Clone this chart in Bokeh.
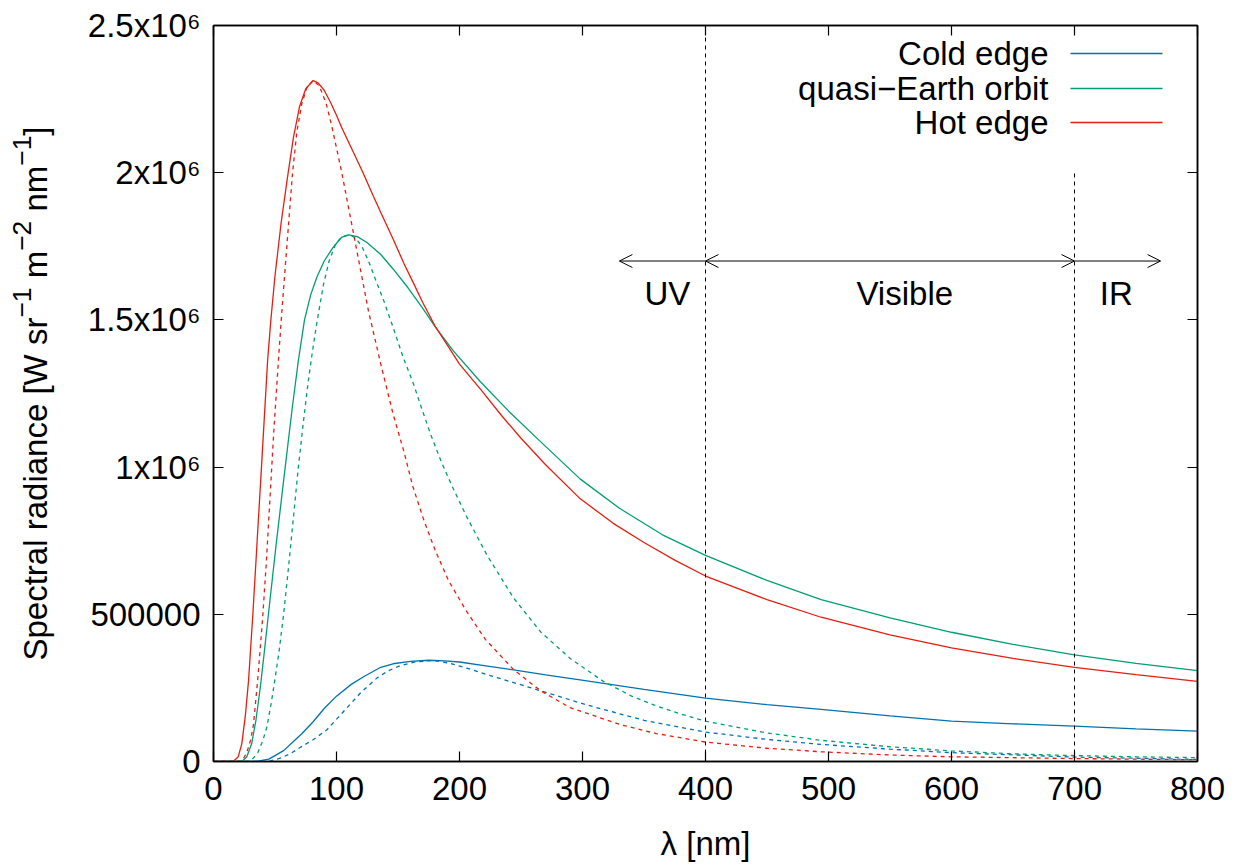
import math
from bokeh.plotting import figure
from bokeh.layouts import row
from bokeh.models import Range1d, FixedTicker, LinearAxis, Arrow, OpenHead, Label
from bokeh.core.properties import value
from bokeh.embed import file_html
from bokeh.resources import INLINE

FONT = "Liberation Sans"
FSN = 33                     # main font size (px)
FS = f"{FSN}px"
SUPN = 0.8 * FSN             # superscript size
BLUE, GREEN, RED = "#0072b2", "#009e73", "#e51e10"

# ---------------- data, y in W sr^-1 m^-2 nm^-1 ----------------
cold_solid_x = [0, 35, 45, 57, 65, 72, 81, 90, 100, 112, 122, 136, 146, 160, 175, 188, 200, 220, 244, 270, 298, 350, 400, 450, 494, 550, 600, 650, 700, 750, 800]
cold_solid_y = [0, 0, 0.008e6, 0.037e6, 0.068e6, 0.095e6, 0.135e6, 0.18e6, 0.222e6, 0.262e6, 0.288e6, 0.320e6, 0.332e6, 0.340e6, 0.344e6, 0.342e6, 0.338e6, 0.326e6, 0.311e6, 0.294e6, 0.277e6, 0.245e6, 0.215e6, 0.193e6, 0.177e6, 0.155e6, 0.137e6, 0.128e6, 0.120e6, 0.111e6, 0.103e6]

cold_dash_x = [0, 44, 55, 63, 71, 81, 92, 101, 111, 120, 133, 142, 152, 165, 179, 192, 206, 225, 244, 274, 298, 315, 350, 400, 450, 494, 550, 600, 700, 800]
cold_dash_y = [0, 0, 0.012e6, 0.028e6, 0.049e6, 0.074e6, 0.107e6, 0.148e6, 0.194e6, 0.235e6, 0.284e6, 0.308e6, 0.326e6, 0.339e6, 0.343e6, 0.334e6, 0.317e6, 0.292e6, 0.268e6, 0.230e6, 0.199e6, 0.179e6, 0.140e6, 0.100e6, 0.075e6, 0.058e6, 0.042e6, 0.030e6, 0.015e6, 0.007e6]

earth_solid_x = [0, 23, 27, 31, 34.5, 38, 41, 44.7, 51, 58.3, 64, 69, 74, 79, 84, 90, 97, 104, 110, 117, 125, 136, 146, 158, 170, 180, 195, 217, 240, 265, 298, 330, 365, 400, 450, 494, 550, 600, 650, 700, 750, 800]
earth_solid_y = [0, 0, 0.015e6, 0.06e6, 0.14e6, 0.25e6, 0.36e6, 0.502e6, 0.74e6, 1.0e6, 1.2e6, 1.362e6, 1.50e6, 1.585e6, 1.645e6, 1.70e6, 1.745e6, 1.78e6, 1.789e6, 1.783e6, 1.762e6, 1.722e6, 1.673e6, 1.61e6, 1.54e6, 1.478e6, 1.395e6, 1.29e6, 1.19e6, 1.09e6, 0.96e6, 0.86e6, 0.77e6, 0.700e6, 0.615e6, 0.550e6, 0.488e6, 0.439e6, 0.398e6, 0.362e6, 0.333e6, 0.309e6]

earth_dash_x = [0, 30, 36, 40, 43.4, 47, 50, 53.5, 57, 61, 65, 69, 73, 77, 80, 84, 89.4, 94, 99, 104, 109.8, 115, 120.6, 126, 131, 138, 146, 154, 162.8, 170, 176.4, 185, 194, 206, 222.5, 244, 266, 290, 317, 340, 358, 380, 400, 450, 494, 550, 600, 650, 700, 750, 800]
earth_dash_y = [0, 0, 0.03e6, 0.07e6, 0.117e6, 0.20e6, 0.28e6, 0.38e6, 0.50e6, 0.66e6, 0.83e6, 1.0e6, 1.15e6, 1.29e6, 1.38e6, 1.49e6, 1.62e6, 1.70e6, 1.755e6, 1.782e6, 1.789e6, 1.78e6, 1.75e6, 1.70e6, 1.645e6, 1.57e6, 1.475e6, 1.375e6, 1.28e6, 1.19e6, 1.113e6, 1.02e6, 0.935e6, 0.83e6, 0.70e6, 0.555e6, 0.440e6, 0.350e6, 0.272e6, 0.222e6, 0.192e6, 0.161e6, 0.137e6, 0.097e6, 0.072e6, 0.050e6, 0.036e6, 0.026e6, 0.020e6, 0.016e6, 0.013e6]

hot_solid_x = [0, 16, 20, 23, 26, 28.5, 32, 35.5, 39, 44, 46.6, 50, 55, 60, 65, 70, 75, 81, 85, 90, 95, 100, 104, 112, 121, 130, 136, 146, 155, 162, 170, 180, 190, 200, 217, 235, 250, 270, 298, 325, 350, 375, 400, 450, 494, 550, 600, 650, 700, 750, 800]
hot_solid_y = [0, 0, 0.015e6, 0.06e6, 0.16e6, 0.275e6, 0.50e6, 0.75e6, 1.0e6, 1.362e6, 1.498e6, 1.65e6, 1.83e6, 1.98e6, 2.12e6, 2.225e6, 2.285e6, 2.313e6, 2.305e6, 2.28e6, 2.24e6, 2.195e6, 2.155e6, 2.085e6, 2.005e6, 1.92e6, 1.865e6, 1.775e6, 1.69e6, 1.63e6, 1.56e6, 1.48e6, 1.415e6, 1.35e6, 1.265e6, 1.171e6, 1.098e6, 1.008e6, 0.893e6, 0.809e6, 0.744e6, 0.684e6, 0.630e6, 0.55e6, 0.490e6, 0.43e6, 0.386e6, 0.350e6, 0.320e6, 0.295e6, 0.272e6]

hot_dash_x = [0, 23, 27, 30, 32.5, 36, 40, 43, 46, 49, 53.4, 55.6, 60, 64.2, 67.8, 71.8, 76, 81, 86, 91.6, 96.2, 104.3, 113.3, 120, 126, 136, 146, 155, 162, 171, 180, 191, 205, 221, 244, 266, 290, 331, 360, 400, 450, 494, 550, 600, 700, 800]
hot_dash_y = [0, 0, 0.03e6, 0.07e6, 0.125e6, 0.28e6, 0.49e6, 0.68e6, 0.90e6, 1.12e6, 1.40e6, 1.53e6, 1.77e6, 1.996e6, 2.14e6, 2.235e6, 2.29e6, 2.313e6, 2.295e6, 2.235e6, 2.158e6, 2.0e6, 1.805e6, 1.66e6, 1.53e6, 1.35e6, 1.18e6, 1.05e6, 0.935e6, 0.82e6, 0.72e6, 0.615e6, 0.515e6, 0.415e6, 0.312e6, 0.240e6, 0.183e6, 0.125e6, 0.095e6, 0.066e6, 0.045e6, 0.033e6, 0.022e6, 0.016e6, 0.010e6, 0.006e6]

series_names = ["Cold edge", "quasi\u2212Earth orbit", "Hot edge"]
series_colors = [BLUE, GREEN, RED]

x_ticks = [0, 100, 200, 300, 400, 500, 600, 700, 800]
y_ticks = [0, 500000, 1000000, 1500000, 2000000, 2500000]
y_tick_labels = ["0", "500000", "1x10\u2076", "1.5x10\u2076", "2x10\u2076", "2.5x10\u2076"]

band_edges = [400, 700]            # vertical dashed lines
band_tops = [2.5e6, 2.0e6]
arrow_y = 1.7e6
uv_arrow = (400, 330)
vis_arrow = (400, 700)
ir_arrow = (700, 770)
band_labels = ["UV", "Visible", "IR"]
band_label_x = [369, 562, 734]
band_label_y = 1.59e6

# y-axis title pieces: (text, is_superscript, leading space)
ytitle_pieces = [("Spectral radiance [W sr", False, False), ("\u22121", True, False),
                 ("m", False, True), ("\u22122", True, False),
                 ("nm", False, True), ("\u22121", True, False), ("]", False, False)]

# ---------------- layout constants (pixels) ----------------
W, H = 1235, 867
TW = 70                                  # width of the strip holding the y title
FL, FR, FT, FB = 213, 1197, 25, 761      # frame edges in page pixels

p = figure(width=W - TW, height=H, x_range=Range1d(0, 800), y_range=Range1d(0, 2.5e6),
           output_backend="svg", toolbar_location=None,
           min_border_left=FL - TW, min_border_right=W - FR, min_border_top=FT, min_border_bottom=H - FB)
p.grid.visible = False
p.outline_line_color = "black"
p.outline_line_width = 1.5
p.background_fill_color = "white"
p.border_fill_color = "white"

def px_to_x(px):
    return (px - FL) / (FR - FL) * 800

def py_to_y(py):
    return (FB - py) / (FB - FT) * 2.5e6

xa = p.xaxis[0]
xa.ticker = FixedTicker(ticks=x_ticks)
ya = p.yaxis[0]
ya.ticker = FixedTicker(ticks=y_ticks)
ya.major_label_overrides = {t: l for t, l in zip(y_ticks, y_tick_labels)}
for ax in (xa, ya):
    ax.major_tick_in = 10
    ax.major_tick_out = 0
    ax.minor_tick_line_color = None
    ax.axis_line_width = 1.5
    ax.major_tick_line_width = 1.2
    ax.major_label_text_font = FONT
    ax.major_label_text_font_size = FS
    ax.major_label_text_color = "black"
    ax.axis_label_text_font = FONT
    ax.axis_label_text_font_size = FS
    ax.axis_label_text_font_style = "normal"
    ax.axis_label_text_color = "black"
xa.major_label_standoff = 15
ya.major_label_standoff = 13
xa.axis_label = "\u03bb [nm]"
xa.axis_label_standoff = 22

# mirror ticks (no labels) on right and top
ra = LinearAxis(ticker=FixedTicker(ticks=y_ticks))
ta = LinearAxis(ticker=FixedTicker(ticks=x_ticks))
for ax, ticks in ((ra, y_ticks), (ta, x_ticks)):
    ax.major_tick_in = 10
    ax.major_tick_out = 0
    ax.minor_tick_line_color = None
    ax.axis_line_width = 1.5
    ax.major_tick_line_width = 1.2
    ax.major_label_overrides = {t: "" for t in ticks}
    ax.major_label_text_color = None
    ax.major_label_text_font_size = "1px"
    ax.major_label_standoff = 0
p.add_layout(ra, "right")
p.add_layout(ta, "above")

# curves
solids = [(cold_solid_x, cold_solid_y), (earth_solid_x, earth_solid_y), (hot_solid_x, hot_solid_y)]
dashes = [(cold_dash_x, cold_dash_y), (earth_dash_x, earth_dash_y), (hot_dash_x, hot_dash_y)]
for (sx, sy), (dx, dy), c in zip(solids, dashes, series_colors):
    p.line(dx, dy, line_color=c, line_width=1.3, line_dash="4 4")
    p.line(sx, sy, line_color=c, line_width=1.3)

# band separators
p.segment(x0=band_edges, y0=[0, 0], x1=band_edges, y1=band_tops,
          line_color="black", line_width=1, line_dash="4 4")

# arrows
p.add_layout(Arrow(start=None, end=OpenHead(size=13, line_width=1), x_start=uv_arrow[0], y_start=arrow_y,
                   x_end=uv_arrow[1], y_end=arrow_y, line_width=1))
p.add_layout(Arrow(start=OpenHead(size=13, line_width=1), end=OpenHead(size=13, line_width=1),
                   x_start=vis_arrow[0], y_start=arrow_y, x_end=vis_arrow[1], y_end=arrow_y, line_width=1))
p.add_layout(Arrow(start=None, end=OpenHead(size=13, line_width=1), x_start=ir_arrow[0], y_start=arrow_y,
                   x_end=ir_arrow[1], y_end=arrow_y, line_width=1))
for t_, bx in zip(band_labels, band_label_x):
    p.add_layout(Label(x=bx, y=band_label_y, text=t_, text_align="center", text_baseline="middle",
                       text_font=FONT, text_font_size=FS, text_color="black"))

# legend (gnuplot style: text then line sample)
leg_text_x = px_to_x(1048)
leg_line_x0, leg_line_x1 = px_to_x(1070), px_to_x(1162)
leg_rows_y = [py_to_y(53), py_to_y(88), py_to_y(122)]
p.segment(x0=[leg_line_x0] * 3, y0=leg_rows_y, x1=[leg_line_x1] * 3, y1=leg_rows_y,
          line_color=series_colors, line_width=1.3)
for name, yy in zip(series_names, leg_rows_y):
    p.add_layout(Label(x=leg_text_x, y=yy, text=name, text_align="right", text_baseline="middle",
                       text_font=FONT, text_font_size=FS, text_color="black"))

# ---------------- y-axis title strip (rotated, reads bottom to top, raised superscripts) ----------------
# the row aligns this strip's frame with the main frame (page rows FT..FB), so y data = H - page row
t = figure(width=TW, height=H, x_range=Range1d(0, TW), y_range=Range1d(H - FB, H - FT),
           output_backend="svg", toolbar_location=None,
           min_border_left=0, min_border_right=0, min_border_top=0, min_border_bottom=0)
t.axis.visible = False
t.grid.visible = False
t.outline_line_color = None
t.background_fill_color = "white"
t.border_fill_color = "white"

ADV = {"S": .667, "p": .556, "e": .556, "c": .5, "t": .278, "r": .333, "a": .556, "l": .222, " ": .278,
       "d": .556, "i": .222, "n": .556, "[": .278, "W": .944, "s": .5, "\u2212": .584, "1": .556,
       "2": .556, "m": .833, "]": .278}
def text_w(s, size):
    return sum(ADV.get(ch, .556) for ch in s) * size
pieces = []
total = 0.0
for txt, sup, lead in ytitle_pieces:
    size = SUPN if sup else FSN
    gap = ADV[" "] * FSN if lead else 0.0
    pieces.append((txt, sup, size, total + gap))
    total += gap + text_w(txt, size)
center_py = (FT + FB) / 2
start_py = center_py + total / 2
MAIN_BASE_PX, SUP_BASE_PX = 35, 21
for txt, sup, size, off in pieces:
    t.text(x=[SUP_BASE_PX if sup else MAIN_BASE_PX], y=[H - (start_py - off)], text=[txt],
           angle=math.pi / 2, text_align="left", text_baseline="alphabetic",
           text_font=value(FONT), text_font_size=f"{size:.1f}px", text_color="black")

open("out.html", "w").write(file_html(row(t, p, spacing=0), INLINE))
